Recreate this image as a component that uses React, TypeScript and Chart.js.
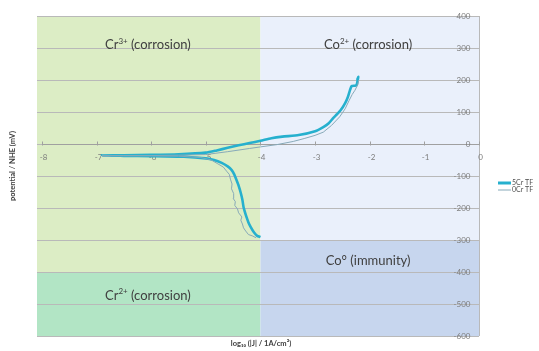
import React, { useEffect, useRef } from "react";
import { Chart, registerables } from "chart.js";

Chart.register(...registerables);

// ---- Data ----
const cr5LogJ = [-4.0, -4.06, -4.12, -4.18, -4.22, -4.25, -4.28, -4.31, -4.33, -4.36, -4.4, -4.44, -4.48, -4.53, -4.6, -4.71, -4.85, -5.0, -5.4, -6.0, -6.5, -6.9, -6.5, -6.0, -5.5, -5.0, -4.8, -4.6, -4.4, -4.2, -4.0, -3.8, -3.6, -3.3, -3.0, -2.85, -2.75, -2.67, -2.6, -2.53, -2.45, -2.4, -2.36, -2.33, -2.27, -2.24, -2.22, -2.21, -2.23];
const cr5Potential = [-291, -287, -276, -259, -245, -231, -215, -197, -175, -153, -130, -112, -95, -81, -70, -59, -50, -45, -40, -38, -37, -36, -35, -34, -32, -27, -20, -12, -4, 3, 10, 18, 23, 28, 40, 53, 65, 81, 93, 106, 128, 147, 169, 181, 182, 184, 200, 210, 200];

const cr0LogJ = [-4.08, -4.15, -4.22, -4.27, -4.31, -4.33, -4.36, -4.34, -4.4, -4.42, -4.47, -4.46, -4.5, -4.49, -4.53, -4.52, -4.55, -4.57, -4.62, -4.68, -4.78, -4.9, -5.1, -5.5, -6.0, -6.5, -6.9, -6.5, -6.0, -5.5, -5.0, -4.6, -4.2, -4.0, -3.7, -3.4, -3.2, -3.0, -2.85, -2.7, -2.55, -2.45, -2.38, -2.32, -2.27, -2.22, -2.2];
const cr0Potential = [-293, -287, -283, -272, -262, -250, -238, -228, -215, -203, -192, -180, -170, -155, -140, -125, -110, -95, -85, -72, -62, -50, -42, -38, -37, -37, -37, -36, -36, -35, -33, -24, -14, -9, -2, 8, 17, 27, 37, 58, 85, 110, 135, 155, 168, 185, 200];

const seriesNames = ["5Cr TF", "0Cr TF"];
const xTickValues = [-8, -7, -6, -5, -4, -3, -2, -1, 0];
const yTickValues = [400, 300, 200, 100, 0, -100, -200, -300, -400, -500, -600];

// Region boundaries in data units
const regionXSplit = -4;
const leftRegionYSplit = -400;
const rightRegionYSplit = -300;

const regionLabels = [
  { parts: [["Cr", false], ["3+", true], [" (corrosion)", false]], x: -6.06, y: 309 },
  { parts: [["Co", false], ["2+", true], [" (corrosion)", false]], x: -2.03, y: 309 },
  { parts: [["Co° (immunity)", false]], x: -2.03, y: -366 },
  { parts: [["Cr", false], ["2+", true], [" (corrosion)", false]], x: -6.06, y: -475 },
];

const xTitle = "log₁₀ (|J| / 1A/cm²)";
const yTitle = "potential / NHE (mV)";

const COLORS = {
  green: "rgb(220,237,197)",
  teal: "rgb(178,229,197)",
  lavender: "rgb(234,240,251)",
  blue: "rgb(199,214,238)",
  grid: "rgb(185,185,185)",
  cr5: "rgb(38,176,206)",
  cr0: "rgb(135,170,185)",
  tick: "rgb(125,125,125)",
  label: "rgb(64,64,64)",
};

function drawParts(ctx: CanvasRenderingContext2D, parts: any[], cx: number, cy: number, size: number) {
  const big = `${size}px Lato, "Open Sans", sans-serif`;
  const small = `${Math.round(size * 0.6)}px Lato, "Open Sans", sans-serif`;
  let total = 0;
  const widths: number[] = [];
  for (const [t, sup] of parts) {
    ctx.font = sup ? small : big;
    const w = ctx.measureText(t).width;
    widths.push(w);
    total += w;
  }
  let x = cx - total / 2;
  ctx.textAlign = "left";
  ctx.textBaseline = "middle";
  parts.forEach(([t, sup]: any, i: number) => {
    ctx.font = sup ? small : big;
    ctx.fillText(t, x, sup ? cy - size * 0.32 : cy);
    x += widths[i];
  });
}

const backgroundPlugin = {
  id: "bgRegions",
  beforeDatasetsDraw(chart: any) {
    const ctx = chart.ctx as CanvasRenderingContext2D;
    const { left, right, top, bottom } = chart.chartArea;
    const xs = chart.scales.x;
    const ys = chart.scales.y;
    const xSplit = xs.getPixelForValue(regionXSplit);
    const yl = ys.getPixelForValue(leftRegionYSplit);
    const yr = ys.getPixelForValue(rightRegionYSplit);
    ctx.save();
    ctx.fillStyle = "#fff";
    ctx.fillRect(0, 0, chart.width, chart.height);
    ctx.fillStyle = COLORS.green;
    ctx.fillRect(left, top, xSplit - left, yl - top);
    ctx.fillStyle = COLORS.teal;
    ctx.fillRect(left, yl, xSplit - left, bottom - yl);
    ctx.fillStyle = COLORS.lavender;
    ctx.fillRect(xSplit, top, right - xSplit, yr - top);
    ctx.fillStyle = COLORS.blue;
    ctx.fillRect(xSplit, yr, right - xSplit, bottom - yr);

    // horizontal gridlines
    ctx.strokeStyle = COLORS.grid;
    ctx.lineWidth = 1;
    for (const v of yTickValues) {
      const y = Math.round(ys.getPixelForValue(v)) + 0.5;
      ctx.beginPath();
      ctx.moveTo(left, y);
      ctx.lineTo(right, y);
      ctx.stroke();
    }
    // right border / y axis at x = 0
    const x0 = Math.round(xs.getPixelForValue(0)) + 0.5;
    ctx.beginPath();
    ctx.moveTo(x0, top);
    ctx.lineTo(x0, bottom);
    ctx.stroke();

    // region labels
    ctx.fillStyle = COLORS.label;
    for (const r of regionLabels) {
      drawParts(ctx, r.parts, xs.getPixelForValue(r.x), ys.getPixelForValue(r.y), 13);
    }

    // x axis line at y = 0 with ticks and labels
    const yAxis = Math.round(ys.getPixelForValue(0)) + 0.5;
    ctx.strokeStyle = "rgb(160,160,160)";
    ctx.beginPath();
    ctx.moveTo(xs.getPixelForValue(-8), yAxis);
    ctx.lineTo(x0, yAxis);
    ctx.stroke();
    ctx.font = `8px Lato, "Open Sans", sans-serif`;
    ctx.fillStyle = COLORS.tick;
    ctx.textAlign = "center";
    ctx.textBaseline = "middle";
    for (const v of xTickValues) {
      const x = Math.round(xs.getPixelForValue(v)) + 0.5;
      ctx.beginPath();
      ctx.moveTo(x, yAxis - 3);
      ctx.lineTo(x, yAxis + 1);
      ctx.stroke();
      ctx.fillText(String(v), x + 1, yAxis + 13);
    }
    // y tick labels (inside, at the right)
    ctx.textAlign = "right";
    for (const v of yTickValues) {
      const y = ys.getPixelForValue(v);
      ctx.fillText(String(v), x0 - 9, y);
    }
    ctx.restore();
  },
  afterDraw(chart: any) {
    const ctx = chart.ctx as CanvasRenderingContext2D;
    ctx.save();
    // legend
    const items = [
      { name: seriesNames[0], color: COLORS.cr5, w: 3, y: 183 },
      { name: seriesNames[1], color: COLORS.cr0, w: 1, y: 190 },
    ];
    ctx.font = `7px Lato, "Open Sans", sans-serif`;
    ctx.textBaseline = "middle";
    ctx.textAlign = "left";
    for (const it of items) {
      ctx.strokeStyle = it.color;
      ctx.lineWidth = it.w;
      ctx.beginPath();
      ctx.moveTo(498, it.y);
      ctx.lineTo(511, it.y);
      ctx.stroke();
      ctx.fillStyle = "rgb(80,80,80)";
      ctx.fillText(it.name, 512, it.y);
    }
    // axis titles
    ctx.fillStyle = "rgb(60,60,60)";
    ctx.font = `bold 7.5px Lato, "Open Sans", sans-serif`;
    ctx.textAlign = "center";
    ctx.fillText(xTitle, 261, 344);
    ctx.translate(13, 166);
    ctx.rotate(-Math.PI / 2);
    ctx.fillText(yTitle, 0, 0);
    ctx.restore();
  },
};

export default function App() {
  const ref = useRef<HTMLCanvasElement | null>(null);
  useEffect(() => {
    if (!ref.current) return;
    const chart = new Chart(ref.current, {
      type: "scatter",
      data: {
        datasets: [
          {
            label: seriesNames[1],
            data: cr0LogJ.map((x, i) => ({ x, y: cr0Potential[i] })),
            showLine: true,
            borderColor: COLORS.cr0,
            borderWidth: 1,
            pointRadius: 0,
            tension: 0,
          },
          {
            label: seriesNames[0],
            data: cr5LogJ.map((x, i) => ({ x, y: cr5Potential[i] })),
            showLine: true,
            borderColor: COLORS.cr5,
            borderWidth: 2.6,
            pointRadius: 0,
            tension: 0.2,
          },
        ],
      },
      options: {
        animation: false,
        responsive: false,
        layout: { padding: { left: 37, top: 16, right: 60, bottom: 15 } },
        plugins: { legend: { display: false }, tooltip: { enabled: false } },
        scales: {
          x: { type: "linear", min: -8.09, max: 0, display: false },
          y: { type: "linear", min: -600, max: 400, display: false },
        },
      },
      plugins: [backgroundPlugin],
    });
    return () => chart.destroy();
  }, []);
  return (
    <div style={{ position: "fixed", left: 0, top: 0, width: 539, height: 351, background: "#fff" }}>
      <canvas ref={ref} width={539} height={351} />
    </div>
  );
}
